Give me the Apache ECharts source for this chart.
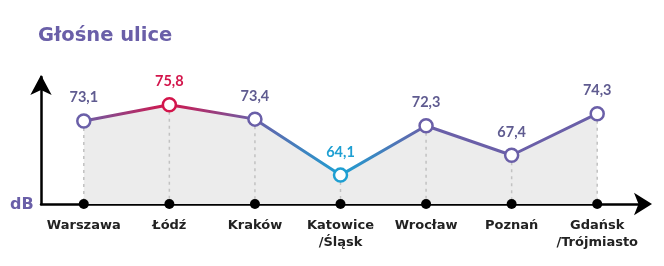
<!DOCTYPE html>
<html>
<head>
<meta charset="utf-8">
<script src="https://cdn.jsdelivr.net/npm/echarts@6/dist/echarts.min.js"></script>
<style>html,body{margin:0;padding:0;background:#fff}#c{width:664px;height:266px}</style>
</head>
<body>
<div id="c"></div>
<script>
const categories = ['Warszawa', 'Łódź', 'Kraków', 'Katowice\n/Śląsk', 'Wrocław', 'Poznań', 'Gdańsk\n/Trójmiasto'];
const values = [73.1, 75.8, 73.4, 64.1, 72.3, 67.4, 74.3];
const valueLabels = ['73,1', '75,8', '73,4', '64,1', '72,3', '67,4', '74,3'];
const titleText = 'Głośne ulice';
const unitText = 'dB';

const PURPLE = '#6a5fa8';
const LABEL_PURPLE = '#5f5b90';
const RED = '#d3154b';
const BLUE = '#1e9fd2';
const Y_MIN = 59.3, Y_MAX = 80.4;
const WIDE = '"DejaVu Sans"';
const NARROW = 'Lato';

function colorFor(i) {
  if (i === 1) return [RED, RED];
  if (i === 3) return [BLUE, BLUE];
  return [PURPLE, LABEL_PURPLE];
}

const chart = echarts.init(document.getElementById('c'), null, {renderer: 'canvas'});
const n = categories.length;
const gradStops = [];
for (let i = 0; i < n; i++) gradStops.push({offset: i / (n - 1), color: colorFor(i)[0]});

chart.setOption({
  animation: false,
  title: {
    text: titleText, left: 33, top: 21,
    textStyle: {color: PURPLE, fontSize: 19.5, fontWeight: 'bold', fontFamily: WIDE}
  },
  graphic: [{
    type: 'text', left: 10, top: 197,
    style: {text: unitText, fill: PURPLE, font: 'bold 16px ' + WIDE}
  }],
  grid: {left: 41, right: 24, top: 77, bottom: 62},
  xAxis: {
    type: 'category', data: categories, boundaryGap: true,
    axisLine: {lineStyle: {color: '#000', width: 2.5}, symbol: ['none', 'arrow'], symbolSize: [17, 18], symbolOffset: [0, 12]},
    axisTick: {show: false},
    axisLabel: {margin: 13, color: '#222', fontSize: 13, fontWeight: 'bold', fontFamily: WIDE, lineHeight: 17, interval: 0}
  },
  yAxis: {
    type: 'value', min: Y_MIN, max: Y_MAX,
    axisLine: {show: true, lineStyle: {color: '#000', width: 2.5}, symbol: ['none', 'arrow'], symbolSize: [16, 20], symbolOffset: [0, 2]},
    axisTick: {show: false}, axisLabel: {show: false}, splitLine: {show: false}
  },
  series: [
    {
      type: 'line', z: 1, silent: true,
      data: values,
      symbol: 'none', lineStyle: {width: 0},
      areaStyle: {color: '#ececec', opacity: 1, origin: 'start'}
    },
    {
      type: 'custom', z: 2, silent: true,
      data: values.map((v, i) => [i, v]),
      renderItem: function (params, api) {
        const top = api.coord([api.value(0), api.value(1)]);
        const bot = api.coord([api.value(0), Y_MIN]);
        return {type: 'line', shape: {x1: top[0], y1: top[1], x2: bot[0], y2: bot[1]},
          style: {stroke: '#c2c2c2', lineWidth: 1.5, lineDash: [3, 4]}};
      }
    },
    {
      type: 'line', z: 3,
      data: values.map((v, i) => ({
        value: v,
        itemStyle: {borderColor: colorFor(i)[0]},
        label: {color: colorFor(i)[1], formatter: valueLabels[i]}
      })),
      symbol: 'circle', symbolSize: 13,
      itemStyle: {color: '#fff', borderWidth: 2.5},
      lineStyle: {width: 3, color: new echarts.graphic.LinearGradient(0, 0, 1, 0, gradStops)},
      label: {show: true, position: 'top', distance: 8, fontSize: 14.5, fontWeight: 'bold', fontFamily: NARROW}
    },
    {
      type: 'scatter', z: 5, silent: true,
      data: values.map((v, i) => [i, Y_MIN]),
      symbol: 'circle', symbolSize: 10, itemStyle: {color: '#000', opacity: 1}, clip: false
    }
  ]
});
</script>
</body>
</html>
